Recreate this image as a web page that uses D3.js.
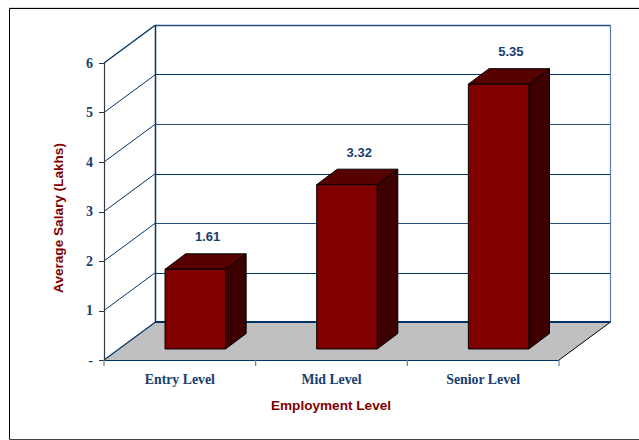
<!DOCTYPE html>
<html><head><meta charset="utf-8">
<script src="https://cdn.jsdelivr.net/npm/d3@7"></script>
<style>html,body{margin:0;padding:0;background:#fff}svg{display:block}</style>
</head><body><div id="c"></div>
<script>
const categories = ["Entry Level","Mid Level","Senior Level"];
const salaries = [1.61,3.32,5.35];
const yTickValues = [0,1,2,3,4,5,6];
const yTickLabels = ["-","1","2","3","4","5","6"];
const xTitle = "Employment Level";
const yTitle = "Average Salary (Lakhs)";

const navy="#003366", label="#17406f", maroon="#800000", top_="#560000", side="#3d0000", title="#800000";
const W=639,H=440;
const svg=d3.select("#c").append("svg").attr("width",W).attr("height",H);

// frame
svg.append("rect").attr("x",9).attr("y",7).attr("width",W-9).attr("height",1).attr("fill","#ddd");
svg.append("path").attr("d","M639,8.5H9.5V439.5").attr("fill","none").attr("stroke","#000");
svg.append("path").attr("d","M9.5,439.5H639").attr("fill","none").attr("stroke","#444");

const x=d3.scaleBand().domain(categories).range([104,559]);
const y=d3.scaleLinear().domain([0,6]).range([360,63]);
const dx=51.5, dy=-38;            // wall depth offset
const off=t=>({x:t*dx,y:t*dy});

// floor
const fy=y(0);
svg.append("polygon").attr("points",[[104,fy],[559,fy],[559+dx,fy+dy],[104+dx,fy+dy]].join(" ")).attr("fill","#c0c0c0");

// grid
const g=svg.append("g").attr("fill","none").attr("stroke",navy);
yTickValues.forEach(v=>{
  const p=y(v);
  if(v>0){
    g.append("line").attr("x1",104).attr("y1",p).attr("x2",104+dx).attr("y2",p+dy).attr("stroke-width",v===6?1.4:1);
    g.append("line").attr("x1",104+dx).attr("y1",Math.round(p+dy)+.5).attr("x2",104+dx+455).attr("y2",Math.round(p+dy)+.5).attr("stroke-width",v===6?1.4:1).attr("stroke-opacity",v%2?1:.85);
  }
});
// walls
g.append("line").attr("x1",155.5).attr("x2",155.5).attr("y1",y(6)+dy).attr("y2",fy+dy).attr("stroke-width",1.5);
g.append("line").attr("x1",610.5).attr("x2",610.5).attr("y1",y(6)+dy).attr("y2",fy+dy).attr("stroke","#5b7fa6").attr("stroke-width",1.2);
g.append("line").attr("x1",155).attr("x2",610.5).attr("y1",fy+dy).attr("y2",fy+dy).attr("stroke-width",2);
g.append("line").attr("x1",104).attr("y1",fy).attr("x2",155.5).attr("y2",fy+dy).attr("stroke-width",1.2);
svg.append("line").attr("x1",559).attr("y1",fy).attr("x2",610.5).attr("y2",fy+dy).attr("stroke","#000");
g.append("line").attr("x1",104).attr("x2",559).attr("y1",fy+.5).attr("y2",fy+.5).attr("stroke-width",1.2);

// axes
svg.append("line").attr("x1",104.5).attr("x2",104.5).attr("y1",y(6)).attr("y2",fy).attr("stroke","#333a45").attr("stroke-width",1.2);
yTickValues.forEach((v,i)=>{
  svg.append("line").attr("x1",99).attr("x2",104).attr("y1",Math.round(y(v))+.5).attr("y2",Math.round(y(v))+.5).attr("stroke","#333");
  svg.append("text").attr("x",93).attr("y",y(v)+4.5).attr("text-anchor","end")
    .attr("font-family","Liberation Serif").attr("font-weight","bold").attr("font-size",14).attr("fill",label).text(yTickLabels[i]);
});
[0,1,2,3].forEach(i=>{
  const tx=104+i*x.bandwidth();
  svg.append("line").attr("x1",tx).attr("x2",tx).attr("y1",fy).attr("y2",fy+6).attr("stroke","#5b7fa6").attr("stroke-width",1.2);
});

// bars
const barW=60.5;
const front=off(.29), back=off(.71);
const ddx=back.x-front.x-1, ddy=back.y-front.y+.5;
categories.forEach((c,i)=>{
  const left=x(c)+x.bandwidth()/2-barW/2+front.x+.5;
  const right=left+barW;
  const base=y(0)+front.y, topY=y(salaries[i])+front.y;
  const b=svg.append("g").attr("stroke","#000").attr("stroke-width",1).attr("stroke-linejoin","round");
  b.append("polygon").attr("fill",side).attr("points",[[right,topY],[right+ddx,topY+ddy],[right+ddx,base+ddy],[right,base]].join(" "));
  b.append("polygon").attr("fill",top_).attr("points",[[left,topY],[left+ddx,topY+ddy],[right+ddx,topY+ddy],[right,topY]].join(" "));
  b.append("rect").attr("fill",maroon).attr("x",left).attr("y",topY).attr("width",barW).attr("height",base-topY);
  svg.append("text").attr("x",left+barW/2+ddx/2+2).attr("y",topY+ddy-12.5).attr("text-anchor","middle")
    .attr("font-family","Liberation Sans").attr("font-weight","bold").attr("font-size",13).attr("fill",label).text(salaries[i].toFixed(2));
  svg.append("text").attr("x",x(c)+x.bandwidth()/2).attr("y",384).attr("text-anchor","middle")
    .attr("font-family","Liberation Serif").attr("font-weight","bold").attr("font-size",13.8).attr("fill",label).text(c);
});

svg.append("text").attr("x",331).attr("y",410).attr("text-anchor","middle")
  .attr("font-family","Liberation Sans").attr("font-weight","bold").attr("font-size",13.6).attr("fill",title).text(xTitle);
svg.append("text").attr("transform","translate(63,218) rotate(-90)").attr("text-anchor","middle")
  .attr("font-family","Liberation Sans").attr("font-weight","bold").attr("font-size",13.6).attr("fill",title).text(yTitle);
</script></body></html>
